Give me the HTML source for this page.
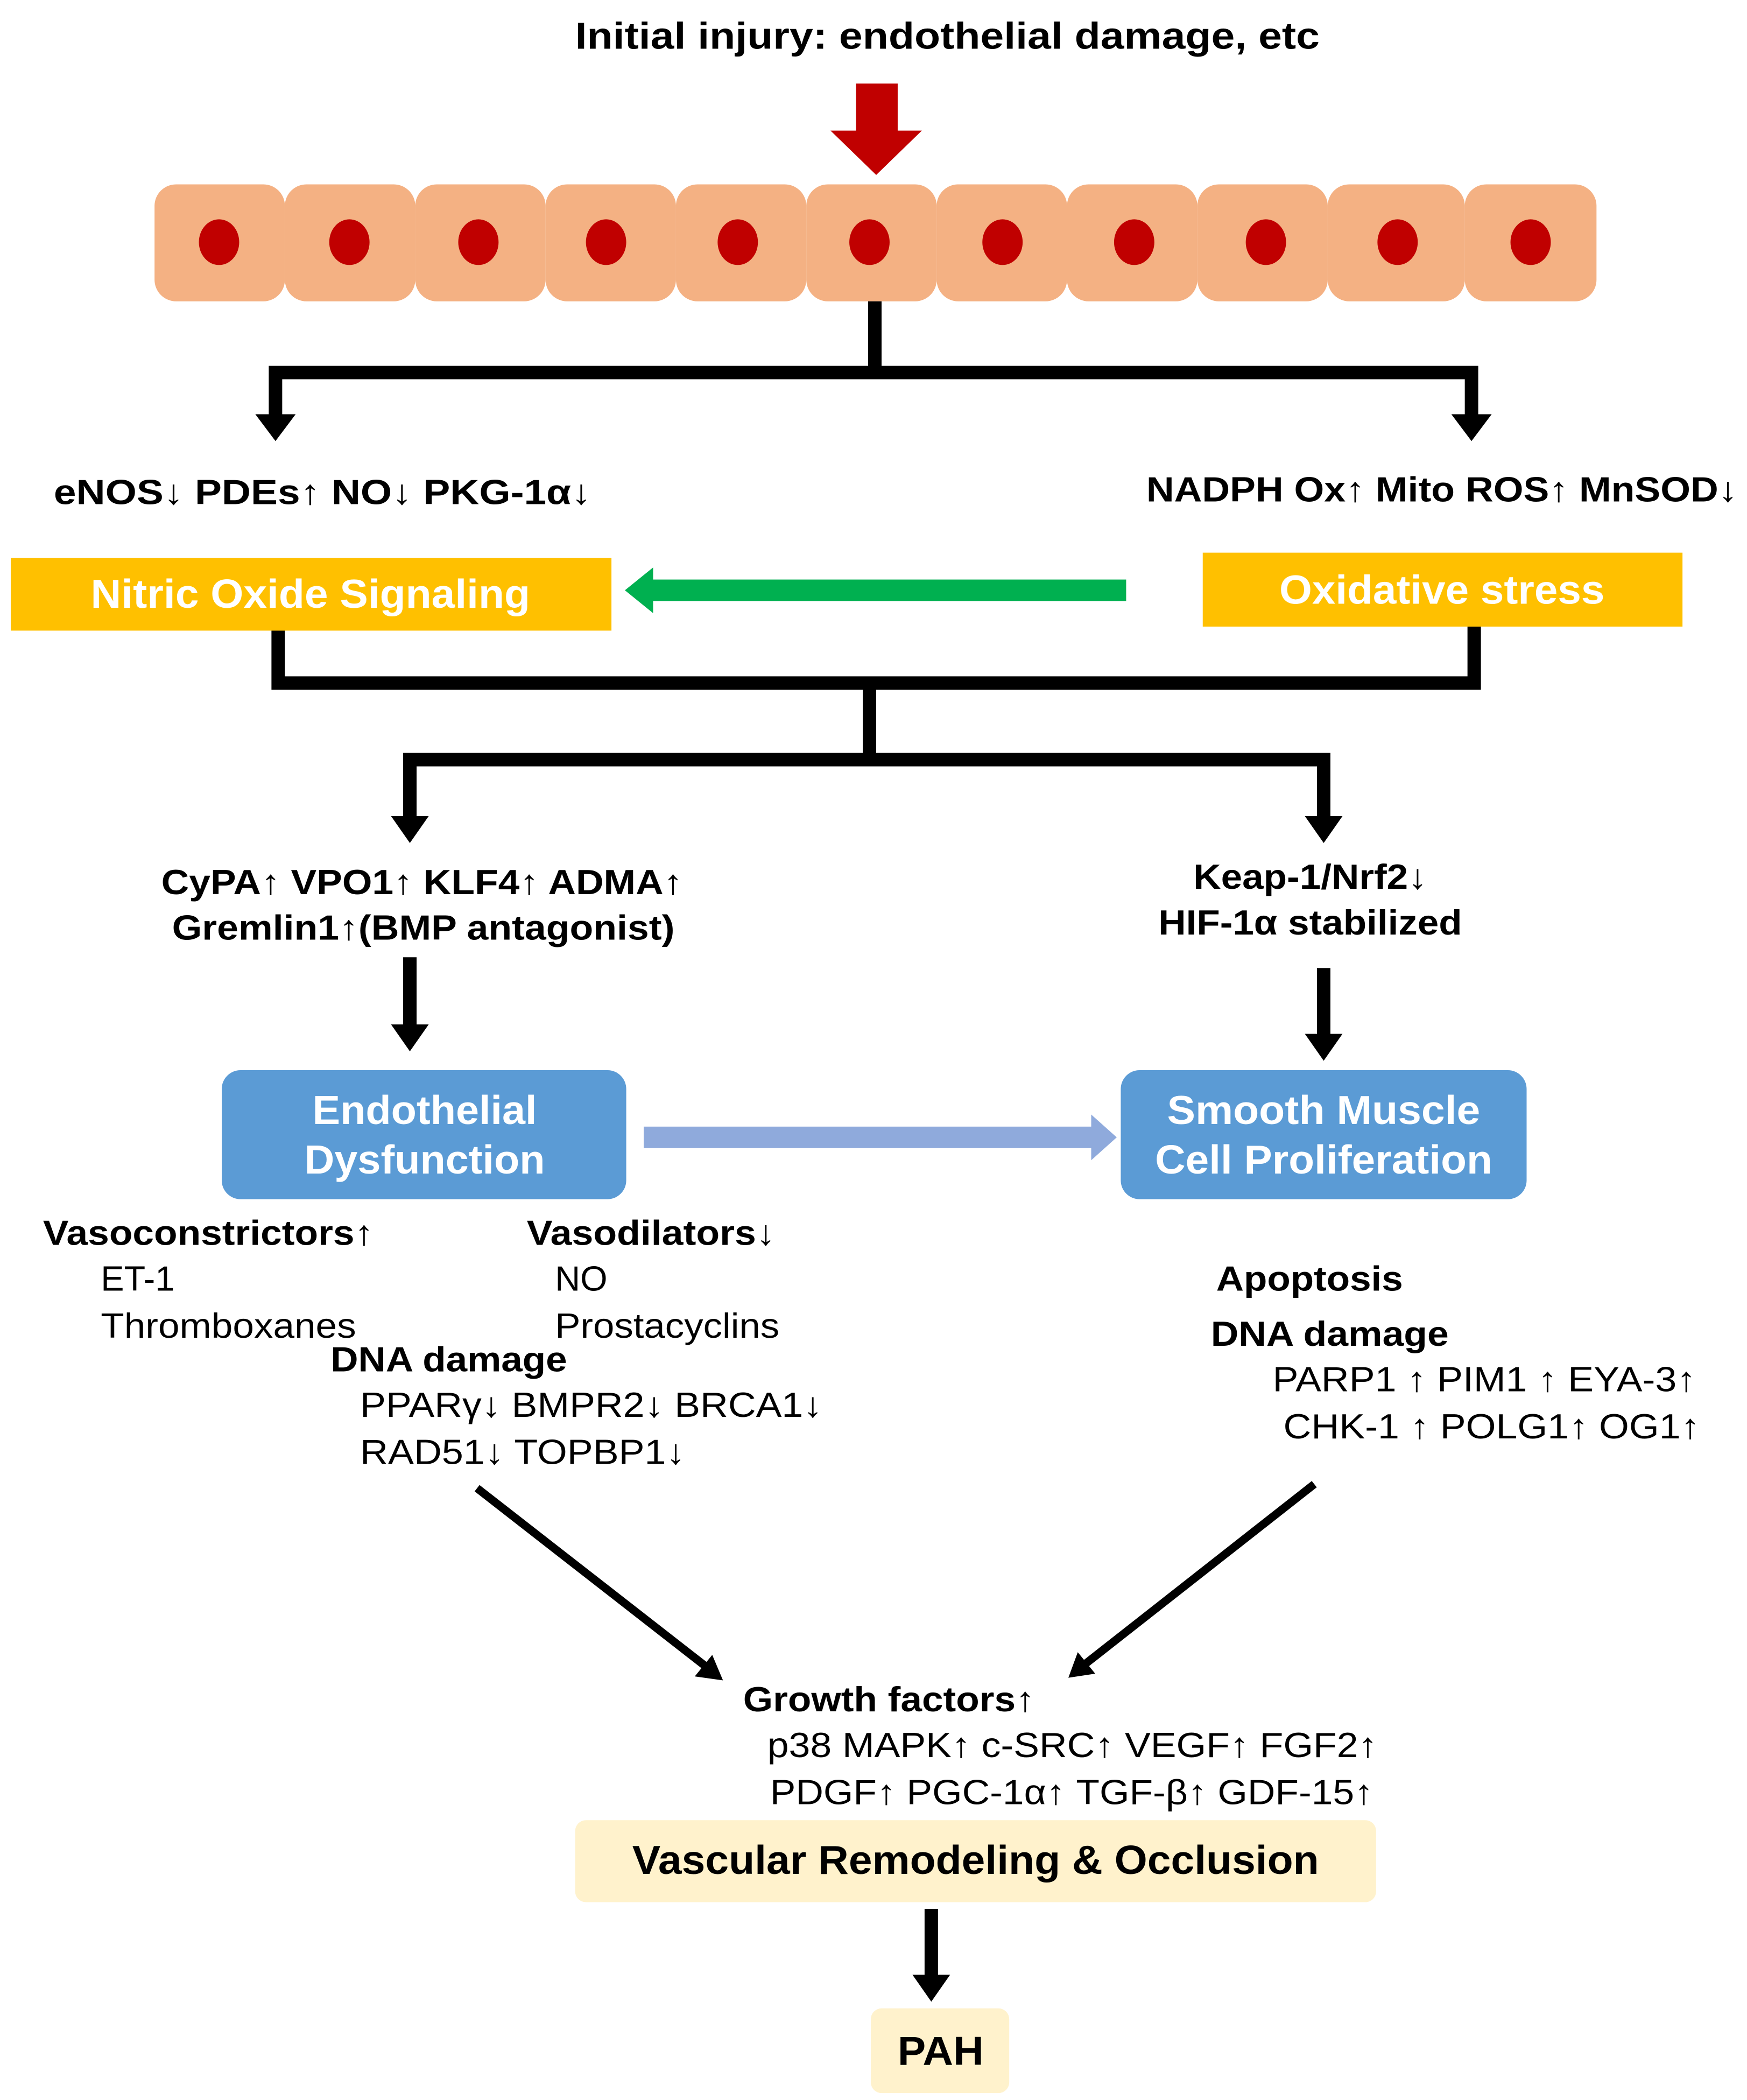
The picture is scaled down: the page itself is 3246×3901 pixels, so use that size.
<!DOCTYPE html>
<html><head><meta charset="utf-8"><style>
html,body{margin:0;padding:0;background:#fff;}
svg{display:block;}
text{font-family:"Liberation Sans",Arial,sans-serif;}
.b{font-weight:bold;font-size:26px;fill:#000;}
.r{font-size:26px;fill:#000;}
.w{font-weight:bold;font-size:30px;fill:#fff;}
</style></head><body>
<svg width="3246" height="3901" viewBox="0 0 1300 1562" xmlns="http://www.w3.org/2000/svg">
<text x="705" y="36" text-anchor="middle" class="b" style="font-size:28px" textLength="554" lengthAdjust="spacingAndGlyphs">Initial injury: endothelial damage, etc</text>
<polygon points="637,62 668,62 668,97 686,97 652,130 618,97 637,97" fill="#C00000"/>
<g fill="#F4B183">
<rect x="115" y="137" width="97" height="87" rx="16"/>
<rect x="212" y="137" width="97" height="87" rx="16"/>
<rect x="309" y="137" width="97" height="87" rx="16"/>
<rect x="406" y="137" width="97" height="87" rx="16"/>
<rect x="503" y="137" width="97" height="87" rx="16"/>
<rect x="600" y="137" width="97" height="87" rx="16"/>
<rect x="697" y="137" width="97" height="87" rx="16"/>
<rect x="794" y="137" width="97" height="87" rx="16"/>
<rect x="891" y="137" width="97" height="87" rx="16"/>
<rect x="988" y="137" width="102" height="87" rx="16"/>
<rect x="1090" y="137" width="98" height="87" rx="16"/>
</g>
<g fill="#C00000">
<ellipse cx="163" cy="180" rx="15" ry="17"/><ellipse cx="260" cy="180" rx="15" ry="17"/>
<ellipse cx="356" cy="180" rx="15" ry="17"/><ellipse cx="451" cy="180" rx="15" ry="17"/>
<ellipse cx="549" cy="180" rx="15" ry="17"/><ellipse cx="647" cy="180" rx="15" ry="17"/>
<ellipse cx="746" cy="180" rx="15" ry="17"/><ellipse cx="844" cy="180" rx="15" ry="17"/>
<ellipse cx="942" cy="180" rx="15" ry="17"/><ellipse cx="1040" cy="180" rx="15" ry="17"/>
<ellipse cx="1139" cy="180" rx="15" ry="17"/>
</g>
<g fill="none" stroke="#000" stroke-width="10">
<path d="M651 224 V277 M200 277 H1100 M205 272 V312 M1095 272 V312"/>
<path d="M207 469 V512 M1097 466 V512 M202 508 H1102 M647 508 V568 M300 565 H990 M305 560 V610 M985 560 V610"/>
<path d="M305 712 V765 M985 720 V772 M693 1420 V1472"/>
</g>
<g fill="#000">
<polygon points="190,308 220,308 205,328"/><polygon points="1080,308 1110,308 1095,328"/>
<polygon points="291,607 319,607 305,627"/><polygon points="971,607 999,607 985,627"/>
<polygon points="291,762 319,762 305,782"/><polygon points="971,769 999,769 985,789"/>
<polygon points="679,1469 707,1469 693,1489"/>
</g>
<text x="40" y="375" class="b" textLength="400" lengthAdjust="spacingAndGlyphs">eNOS↓  PDEs↑ NO↓ PKG-1α↓</text>
<text x="853" y="373" class="b" textLength="440" lengthAdjust="spacingAndGlyphs">NADPH Ox↑ Mito ROS↑ MnSOD↓</text>
<rect x="8" y="415" width="447" height="54" fill="#FFC000"/>
<text x="231" y="452" text-anchor="middle" class="w" textLength="327" lengthAdjust="spacingAndGlyphs">Nitric Oxide Signaling</text>
<rect x="895" y="411" width="357" height="55" fill="#FFC000"/>
<text x="1073" y="449" text-anchor="middle" class="w" textLength="242" lengthAdjust="spacingAndGlyphs">Oxidative stress</text>
<rect x="485" y="431" width="353" height="16" fill="#00B050"/>
<polygon points="486,422 486,456 465,439" fill="#00B050"/>
<text x="314" y="665" text-anchor="middle" class="b" textLength="388" lengthAdjust="spacingAndGlyphs">CyPA↑ VPO1↑ KLF4↑ ADMA↑</text>
<text x="315" y="699" text-anchor="middle" class="b" textLength="374" lengthAdjust="spacingAndGlyphs">Gremlin1↑(BMP antagonist)</text>
<text x="975" y="661" text-anchor="middle" class="b" textLength="174" lengthAdjust="spacingAndGlyphs">Keap-1/Nrf2↓</text>
<text x="975" y="695" text-anchor="middle" class="b" textLength="226" lengthAdjust="spacingAndGlyphs">HIF-1α stabilized</text>
<rect x="165" y="796" width="301" height="96" rx="14" fill="#5B9BD5"/>
<text x="316" y="836" text-anchor="middle" class="w" textLength="167" lengthAdjust="spacingAndGlyphs">Endothelial</text>
<text x="316" y="873" text-anchor="middle" class="w" textLength="179" lengthAdjust="spacingAndGlyphs">Dysfunction</text>
<rect x="834" y="796" width="302" height="96" rx="14" fill="#5B9BD5"/>
<text x="985" y="836" text-anchor="middle" class="w" textLength="233" lengthAdjust="spacingAndGlyphs">Smooth Muscle</text>
<text x="985" y="873" text-anchor="middle" class="w" textLength="251" lengthAdjust="spacingAndGlyphs">Cell Proliferation</text>
<rect x="479" y="838" width="333" height="16" fill="#8FAADC"/>
<polygon points="812,829 812,863 831,846" fill="#8FAADC"/>
<text x="32" y="926" class="b" textLength="246" lengthAdjust="spacingAndGlyphs">Vasoconstrictors↑</text>
<text x="75" y="960" class="r">ET-1</text>
<text x="75" y="995" class="r" textLength="190" lengthAdjust="spacingAndGlyphs">Thromboxanes</text>
<text x="392" y="926" class="b" textLength="185" lengthAdjust="spacingAndGlyphs">Vasodilators↓</text>
<text x="413" y="960" class="r">NO</text>
<text x="413" y="995" class="r" textLength="167" lengthAdjust="spacingAndGlyphs">Prostacyclins</text>
<text x="246" y="1020" class="b" textLength="176" lengthAdjust="spacingAndGlyphs">DNA damage</text>
<text x="268" y="1054" class="r" textLength="344" lengthAdjust="spacingAndGlyphs">PPARγ↓ BMPR2↓ BRCA1↓</text>
<text x="268" y="1089" class="r" textLength="242" lengthAdjust="spacingAndGlyphs">RAD51↓ TOPBP1↓</text>
<text x="905" y="960" class="b" textLength="139" lengthAdjust="spacingAndGlyphs">Apoptosis</text>
<text x="901" y="1001" class="b" textLength="177" lengthAdjust="spacingAndGlyphs">DNA damage</text>
<text x="947" y="1035" class="r" textLength="315" lengthAdjust="spacingAndGlyphs">PARP1 ↑ PIM1 ↑ EYA-3↑</text>
<text x="955" y="1070" class="r" textLength="310" lengthAdjust="spacingAndGlyphs">CHK-1 ↑ POLG1↑ OG1↑</text>
<g stroke="#000" stroke-width="6">
<line x1="355" y1="1107" x2="527" y2="1241"/>
<line x1="978" y1="1104" x2="806" y2="1239"/>
</g>
<polygon points="538,1250 517,1247 530,1231" fill="#000"/>
<polygon points="795,1248 802,1229 815,1245" fill="#000"/>
<text x="553" y="1273" class="b" textLength="217" lengthAdjust="spacingAndGlyphs">Growth factors↑</text>
<text x="571" y="1307" class="r" textLength="454" lengthAdjust="spacingAndGlyphs">p38 MAPK↑ c-SRC↑ VEGF↑ FGF2↑</text>
<text x="573" y="1342" class="r" textLength="449" lengthAdjust="spacingAndGlyphs">PDGF↑ PGC-1α↑ TGF-β↑ GDF-15↑</text>
<rect x="428" y="1354" width="596" height="61" rx="8" fill="#FFF2CC"/>
<text x="726" y="1394" text-anchor="middle" class="b" style="font-size:30px" textLength="511" lengthAdjust="spacingAndGlyphs">Vascular Remodeling &amp; Occlusion</text>
<rect x="648" y="1494" width="103" height="63" rx="8" fill="#FFF2CC"/>
<text x="700" y="1536" text-anchor="middle" class="b" style="font-size:30px" textLength="64" lengthAdjust="spacingAndGlyphs">PAH</text>
</svg>
</body></html>
